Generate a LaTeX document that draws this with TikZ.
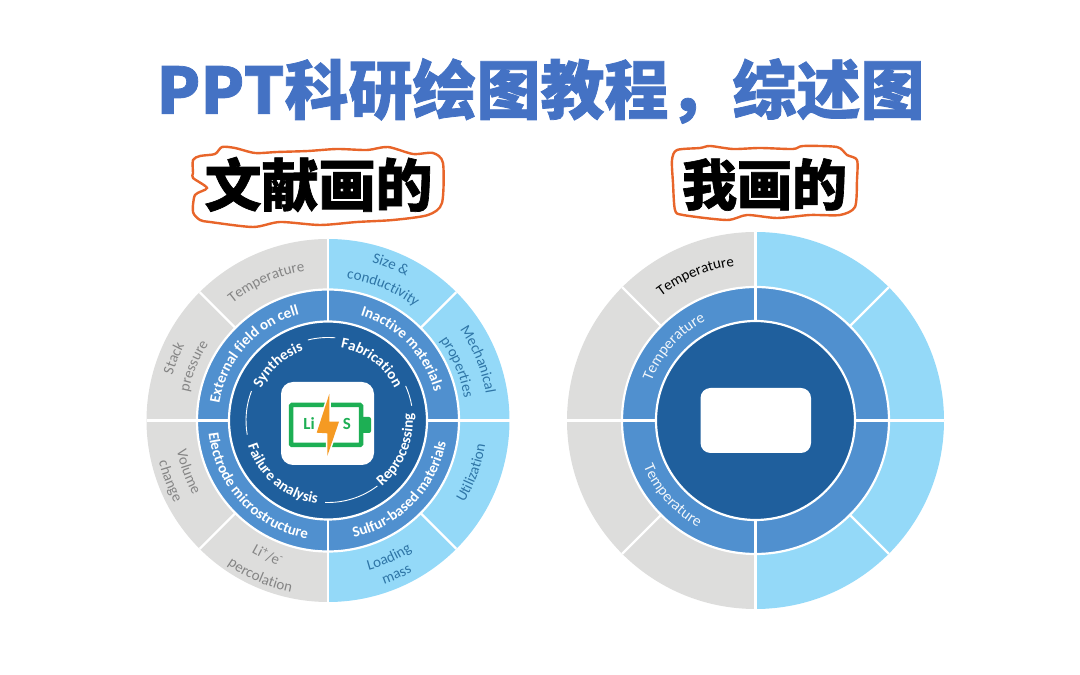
\documentclass[tikz,border=0pt]{standalone}
\usepackage{fontspec}
\usetikzlibrary{decorations.text}
\setmainfont{Carlito}
\newfontfamily\cjkblack[FakeBold=1.2]{Noto Sans CJK SC Black}
\definecolor{darkblue}{HTML}{1F5F9D}
\definecolor{midblue}{HTML}{5090CF}
\definecolor{lightblue}{HTML}{94D9F8}
\definecolor{ringgray}{HTML}{DDDDDC}
\definecolor{titleblue}{HTML}{4472C4}
\definecolor{stickerorange}{HTML}{E8652A}
\definecolor{battgreen}{HTML}{1DAF54}
\definecolor{boltorange}{HTML}{F59A23}
\definecolor{graytext}{HTML}{858585}
\definecolor{bluetext}{HTML}{2E75A6}
% annular sector: centre, inner r, outer r, start angle, end angle, colour
\newcommand{\ringsector}[6]{\fill[shift={(#1)},#6] (#4:#3pt) arc[start angle=#4,end angle=#5,radius=#3pt] -- (#5:#2pt) arc[start angle=#5,end angle=#4,radius=#2pt] -- cycle;}
% curved labels: centre, baseline radius, middle angle, format, text
\newcommand{\lblcw}[5]{\path[shift={(#1)},decorate,decoration={text along path,text align=center,text={|#4|#5}}] ({#3+70}:#2pt) arc[start angle={#3+70},end angle={#3-70},radius=#2pt];}
\newcommand{\lblccw}[5]{\path[shift={(#1)},decorate,decoration={text along path,text align=center,text={|#4|#5}}] ({#3-70}:#2pt) arc[start angle={#3-70},end angle={#3+70},radius=#2pt];}
\newcommand{\fmtgray}{\fontsize{15}{15}\selectfont\color{graytext}}
\newcommand{\fmtblue}{\fontsize{15}{15}\selectfont\color{bluetext}}
\newcommand{\fmtwhite}{\fontsize{15}{15}\selectfont\bfseries\color{white}}
\newcommand{\fmtplain}{\fontsize{15.5}{15.5}\selectfont\color{white!92!midblue}}
\newcommand{\fmtblack}{\fontsize{15}{15}\selectfont\color{black}}
\tikzset{
  sep/.style={draw=white,line width=2.2pt},
  disc/.style={fill=darkblue,draw=white,line width=2.2pt},
  thinarc/.style={draw=white,line width=0.9pt},
  sticker/.style={fill=white,draw=stickerorange,line width=2.4pt,smooth cycle,tension=0.45},
  heavy/.style={font=\cjkblack,inner sep=0pt,anchor=center},
}
\begin{document}
\begin{tikzpicture}[x=1pt,y=1pt]
\useasboundingbox (0,0) rectangle (1080,675);
\coordinate (L) at (328,254.5);
\coordinate (R) at (755.5,254.5);

% title
\node[heavy,text=titleblue,font=\cjkblack\fontsize{64}{64}\selectfont] (title) at (540.5,584) {PPT科研绘图教程，综述图};

% stickers
\draw[sticker,yshift=-140pt] plot coordinates {(193,642)(193,655)(200,659)(215,661)(222,668)(235,667)(255,662)(277,663)(308,664)(337,666)(367,665)(388,668)(413,661)(433,662)(443,652)(442,612)(428,600)(393,595)(357,593)(320,590)(280,593)(253,588)(210,593)(200,595)(193,603)(195,620)(207,627)(193,637)};
\node[heavy,font=\cjkblack\fontsize{57}{57}\selectfont] (stickerA) at (318.5,490.5) {文献画的};
\draw[sticker,yshift=-140pt] plot coordinates {(672,655)(677,665)(700,667)(710,669)(733,666)(760,667)(793,666)(803,669)(837,668)(847,660)(857,655)(857,635)(855,608)(840,600)(810,600)(777,597)(747,600)(727,595)(683,600)(675,605)(673,632)};
\node[heavy,font=\cjkblack\fontsize{55}{55}\selectfont] (stickerB) at (764.5,490.5) {我画的};

% left wheel
\ringsector{L}{99}{181.5}{90}{135}{ringgray}
\ringsector{L}{99}{181.5}{135}{180}{ringgray}
\ringsector{L}{99}{181.5}{180}{225}{ringgray}
\ringsector{L}{99}{181.5}{225}{270}{ringgray}
\ringsector{L}{99}{181.5}{-90}{90}{lightblue}
\fill[midblue,draw=white,line width=2.2pt] (L) circle[radius=131pt];
\foreach \a in {0,90,180,270} \draw[sep] (L)++(\a:99pt) -- ++(\a:82.5pt);
\foreach \a in {45,135,225,315} \draw[sep] (L)++(\a:131pt) -- ++(\a:50.5pt);
\draw[disc] (L) circle[radius=99pt];
\draw[thinarc,shift={(L)}] (85:83pt) arc[start angle=85,end angle=104,radius=83pt];
\draw[thinarc,shift={(L)}] (24:85pt) arc[start angle=24,end angle=10,radius=85pt];
\draw[thinarc,shift={(L)}] (159:82pt) arc[start angle=159,end angle=190,radius=82pt];
\draw[thinarc,shift={(L)}] (268:82pt) arc[start angle=268,end angle=307,radius=82pt];
\fill[white,rounded corners=12pt] (281,210) rectangle (374,293);
% battery
\draw[battgreen,line width=4.5pt,rounded corners=1pt] (291,230) rectangle (361,270);
\fill[battgreen,rounded corners=2pt] (361,242) rectangle (371,258);
\node[inner sep=0pt,text=battgreen,font=\fontsize{17}{17}\selectfont\bfseries] (li) at (309,251) {Li};
\node[inner sep=0pt,text=battgreen,font=\fontsize{17}{17}\selectfont\bfseries] (s) at (347,251) {S};
\filldraw[fill=boltorange,draw=white,line width=3pt,line join=miter] (329.3,281) -- (316.7,242.3) -- (327.3,241.7) -- (327.3,219) -- (339,253.3) -- (329.3,253.3) -- cycle;
\fill[boltorange] (329.3,281) -- (316.7,242.3) -- (327.3,241.7) -- (327.3,219) -- (339,253.3) -- (329.3,253.3) -- cycle;
% left wheel, outer labels
\lblcw{L}{151}{114}{\fmtgray}{Temperature}
\lblcw{L}{162}{158}{\fmtgray}{Stack}
\lblcw{L}{142}{158}{\fmtgray}{pressure}
\lblcw{L}{164}{68}{\fmtblue}{Size {\&}}
\lblcw{L}{143}{67.5}{\fmtblue}{conductivity}
\lblcw{L}{160}{22}{\fmtblue}{Mechanical}
\lblcw{L}{138}{22.5}{\fmtblue}{properties}
\lblccw{L}{159}{-20}{\fmtblue}{Utilization}
\lblccw{L}{155}{-66}{\fmtblue}{Loading}
\lblccw{L}{173}{-66}{\fmtblue}{mass}
\lblccw{L}{154}{200}{\fmtgray}{Volume}
\lblccw{L}{174}{201}{\fmtgray}{change}
\lblccw{L}{153}{246}{\fmtgray}{Li{\textsuperscript{+}}/e{\textsuperscript{-}}}
\lblccw{L}{176}{246.5}{\fmtgray}{percolation}
% left wheel, middle labels
\lblcw{L}{110}{138}{\fmtwhite}{External field on cell}
\lblcw{L}{110}{44}{\fmtwhite}{Inactive materials}
\lblccw{L}{120}{-44}{\fmtwhite}{Sulfur-based materials}
\lblccw{L}{120}{223}{\fmtwhite}{Electrode microstructure}
% left wheel, inner labels
\lblcw{L}{74}{132}{\fmtwhite}{Synthesis}
\lblcw{L}{74}{53}{\fmtwhite}{Fabrication}
\lblccw{L}{85}{-23}{\fmtwhite}{Reprocessing}
\lblccw{L}{84}{230}{\fmtwhite}{Failure analysis}

% right wheel
\ringsector{R}{99.5}{188.5}{90}{270}{ringgray}
\ringsector{R}{99.5}{188.5}{-90}{90}{lightblue}
\fill[midblue,draw=white,line width=2.2pt] (R) circle[radius=133.5pt];
\foreach \a in {0,90,180,270} \draw[sep] (R)++(\a:99.5pt) -- ++(\a:89pt);
\foreach \a in {45,135,225,315} \draw[sep] (R)++(\a:133.5pt) -- ++(\a:55pt);
\draw[disc] (R) circle[radius=99.5pt];
\fill[white,rounded corners=10pt] (700.5,222) rectangle (811,287);
\lblcw{R}{156}{112.5}{\fmtblack}{Temperature}
\lblcw{R}{111}{138}{\fmtplain}{Temperature}
\lblccw{R}{121}{222}{\fmtplain}{Temperature}
\end{tikzpicture}
\end{document}
